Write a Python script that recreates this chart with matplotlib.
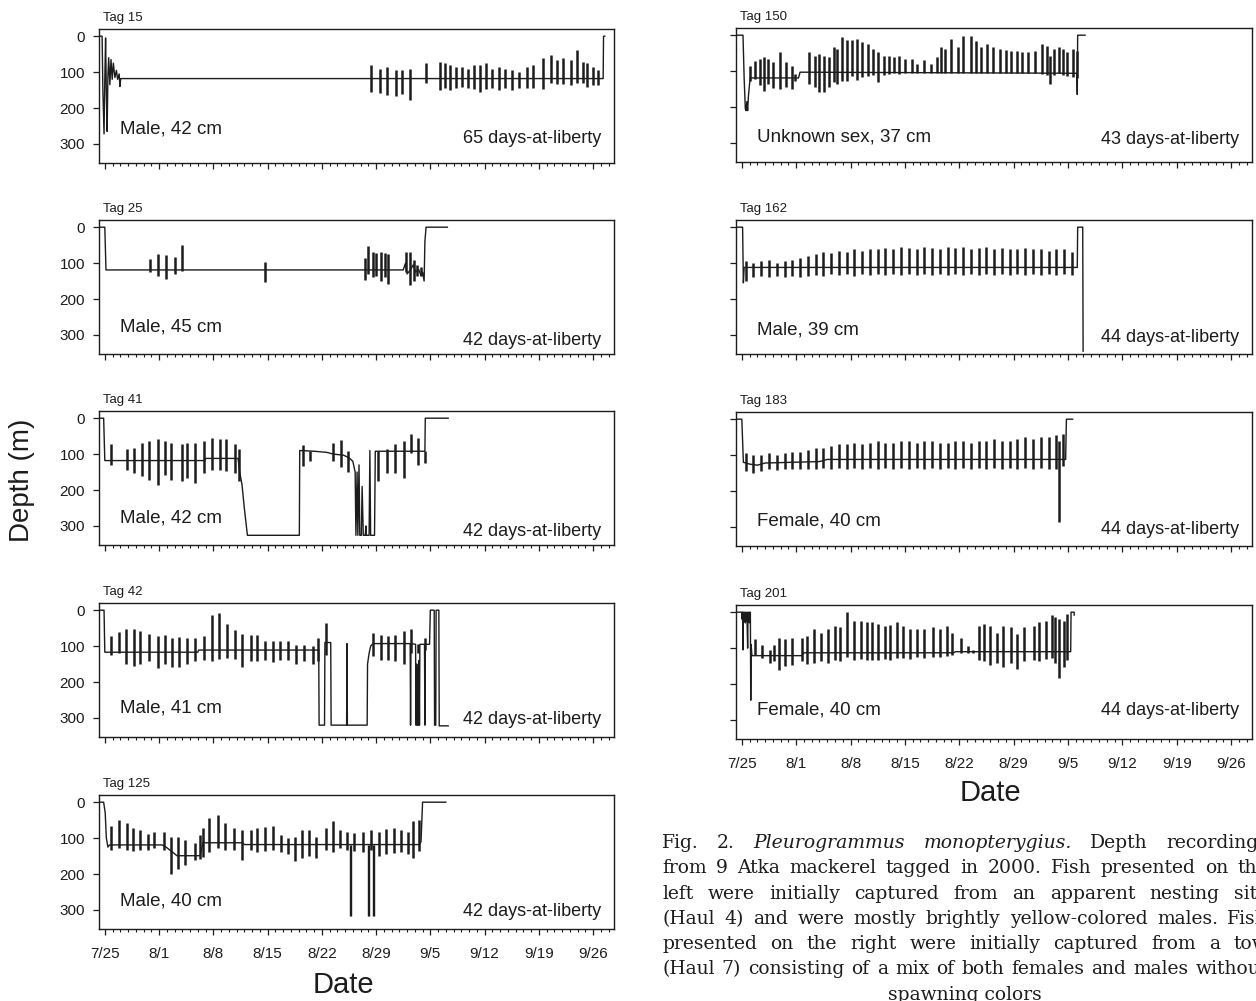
import matplotlib
matplotlib.use('Agg')
import matplotlib.pyplot as plt

# ---- axis definitions (day 0 = 7/25) ----
tick_days = [0, 7, 14, 21, 28, 35, 42, 49, 56, 63]
tick_labels = ['7/25', '8/1', '8/8', '8/15', '8/22', '8/29', '9/5', '9/12', '9/19', '9/26']
depth_ticks = [0, 100, 200, 300]

# ---- Tag 15 ----
tag15_trace = [(-0.9, 0), (-0.35, 0), (-0.25, 150), (-0.1, 272), (0.0, 120), (0.1, 5), (0.2, 160),
               (0.3, 265), (0.4, 110), (0.5, 60), (0.65, 135), (0.8, 65), (0.95, 120), (1.1, 75),
               (1.3, 115), (1.5, 95), (1.65, 120), (1.85, 105), (1.95, 140), (2.05, 118),
               (64.3, 118), (64.35, 0), (64.5, 0)]
tag15_spikes = [(34.3, 80, 155), (35.5, 90, 159), (36.4, 85, 164), (37.6, 94, 167), (38.4, 94, 161),
                (39.4, 90, 178), (41.5, 76, 130), (43.3, 71, 150), (43.9, 74, 145), (44.5, 81, 150),
                (45.3, 85, 145), (46.1, 85, 141), (46.9, 90, 143), (47.6, 81, 148), (48.4, 81, 155),
                (49.2, 76, 148), (49.9, 90, 145), (50.9, 85, 150), (51.7, 90, 145), (52.5, 94, 150),
                (53.5, 99, 143), (54.5, 85, 145), (55.3, 81, 143), (56.6, 62, 148), (57.6, 52, 131),
                (58.4, 67, 133), (59.1, 62, 133), (60.2, 65, 136), (60.9, 39, 131), (61.7, 71, 131),
                (62.2, 76, 141), (63.0, 85, 136), (63.6, 94, 136)]
tag15_dives = []

# ---- Tag 25 ----
tag25_trace = [(-0.7, 0), (0.0, 0), (0.15, 119), (38.5, 119), (38.8, 100), (39.0, 130), (39.4, 120),
               (39.8, 105), (40.1, 125), (40.5, 118), (40.8, 135), (41.0, 125), (41.2, 150),
               (41.3, 40), (41.45, 0), (44.2, 0)]
tag25_spikes = [(5.8, 88, 125), (6.9, 75, 137), (7.9, 78, 144), (9.0, 82, 130), (10.0, 50, 122),
                (20.7, 97, 152), (33.6, 85, 148), (34.0, 52, 130), (34.6, 68, 140), (35.0, 72, 135),
                (35.7, 70, 150), (36.2, 72, 140), (36.6, 75, 158), (38.8, 68, 125), (39.4, 70, 160),
                (39.9, 90, 150), (40.3, 105, 135), (40.8, 110, 135)]
tag25_dives = []

# ---- Tag 41 ----
tag41_trace = [(-0.6, 0), (-0.15, 0), (0.0, 118), (12.9, 118), (13.0, 112), (17.2, 112), (17.4, 150),
               (17.7, 185), (18.0, 250), (18.4, 326), (25.1, 326), (25.15, 90), (27.0, 92),
               (28.6, 95), (29.5, 100), (30.8, 103), (31.5, 110), (32.0, 120), (32.3, 150),
               (32.4, 326), (32.55, 150), (32.65, 326), (32.8, 130), (32.9, 326), (33.1, 326),
               (33.2, 190), (33.35, 326), (33.6, 326), (33.7, 300), (33.75, 326), (34.1, 326),
               (34.2, 90), (34.3, 326), (34.8, 326), (34.9, 92), (41.3, 92), (41.35, 0), (44.3, 0)]
tag41_spikes = [(0.8, 73, 129), (2.9, 85, 143), (3.8, 82, 152), (4.8, 68, 162), (5.7, 64, 171),
                (6.8, 59, 185), (7.8, 64, 157), (8.6, 68, 171), (9.9, 73, 176), (10.6, 68, 167),
                (11.6, 68, 181), (12.8, 64, 153), (13.8, 54, 143), (14.8, 59, 143), (15.7, 59, 148),
                (16.8, 73, 153), (17.3, 87, 175), (25.6, 76, 134), (26.5, 92, 120), (29.5, 70, 118),
                (30.5, 60, 135), (31.4, 90, 150), (35.3, 90, 176), (36.4, 85, 153), (37.5, 73, 153),
                (38.6, 64, 167), (39.5, 45, 96), (40.4, 54, 130), (41.3, 92, 125)]
tag41_dives = []

# ---- Tag 42 ----
tag42_trace = [(-0.6, 0), (-0.1, 0), (0.0, 117), (12.0, 117), (12.1, 111), (27.6, 111), (27.65, 320),
               (28.35, 320), (28.4, 90), (29.15, 90), (29.2, 320), (31.2, 320), (31.25, 93),
               (31.3, 320), (33.85, 320), (33.9, 150), (34.1, 120), (34.3, 100), (34.6, 93),
               (39.4, 93), (39.45, 320), (39.5, 93), (40.1, 95), (40.15, 320), (40.25, 150),
               (40.3, 320), (40.4, 160), (40.45, 320), (40.55, 140), (40.6, 320), (40.65, 95),
               (41.25, 95), (41.3, 320), (41.35, 95), (41.9, 95), (42.0, 0), (42.5, 0),
               (42.55, 320), (42.7, 320), (42.75, 0), (43.1, 0), (43.15, 322), (44.3, 322)]
tag42_spikes = [(0.8, 72, 125), (1.85, 61, 118), (2.7, 52, 149), (3.8, 51, 155), (4.6, 58, 149),
                (5.7, 67, 142), (6.8, 72, 161), (7.8, 70, 149), (8.7, 77, 157), (9.6, 75, 158),
                (10.6, 77, 149), (11.7, 77, 142), (12.8, 72, 138), (13.8, 14, 142), (14.7, 8, 136),
                (15.8, 38, 133), (16.8, 54, 136), (17.7, 65, 157), (18.8, 70, 142), (19.7, 68, 142),
                (20.7, 86, 138), (21.7, 86, 145), (22.6, 86, 138), (23.6, 86, 140), (24.7, 96, 149),
                (25.7, 96, 142), (26.8, 100, 149), (27.5, 77, 142), (28.6, 35, 124), (34.6, 63, 128),
                (35.6, 70, 138), (36.5, 72, 138), (37.5, 70, 142), (38.6, 58, 149), (39.5, 53, 120),
                (40.4, 95, 120), (41.3, 77, 110)]
tag42_dives = []

# ---- Tag 125 ----
tag125_trace = [(-0.7, 0), (-0.15, 0), (0.05, 30), (0.2, 100), (0.4, 125), (0.6, 119), (7.4, 119),
                (7.9, 125), (8.8, 140), (9.3, 149), (12.3, 149), (12.7, 110), (12.9, 113),
                (17.8, 113), (18.0, 118), (40.6, 118), (40.8, 110), (41.0, 0), (44.0, 0)]
tag125_spikes = [(0.8, 65, 133), (1.85, 49, 128), (2.8, 58, 133), (3.7, 72, 136), (4.5, 77, 133),
                 (5.6, 89, 133), (6.4, 82, 128), (7.6, 82, 133), (8.6, 96, 199), (9.5, 96, 185),
                 (10.4, 105, 175), (11.6, 114, 161), (12.3, 91, 157), (12.7, 72, 152), (13.4, 44, 138),
                 (14.6, 35, 128), (15.5, 58, 133), (16.7, 72, 133), (17.7, 77, 161), (18.8, 77, 133),
                 (19.7, 72, 138), (20.7, 68, 136), (21.7, 65, 133), (22.7, 91, 138), (23.6, 100, 145),
                 (24.5, 96, 164), (25.5, 77, 155), (26.4, 77, 149), (27.3, 96, 155), (28.5, 72, 133),
                 (29.4, 53, 138), (30.3, 77, 128), (31.3, 82, 133), (32.2, 86, 136), (33.3, 82, 138),
                 (34.3, 77, 133), (35.4, 82, 149), (36.3, 74, 145), (37.3, 72, 142), (38.2, 77, 138),
                 (39.1, 82, 145), (39.8, 53, 155), (40.5, 49, 136)]
tag125_dives = [(31.65, 118, 316), (31.75, 118, 316), (34.0, 118, 316), (34.12, 118, 316),
                (34.55, 118, 316), (34.67, 118, 316)]

# ---- Tag 150 ----
tag150_trace = [(-0.8, 0), (0.15, 0), (0.3, 120), (0.45, 205), (0.55, 210), (0.65, 185), (0.75, 210),
                (0.85, 170), (1.0, 135), (1.1, 119), (7.3, 119), (7.5, 103), (43.15, 106),
                (43.2, 165), (43.25, 0), (44.2, 0)]
tag150_spikes = [(1.1, 85, 127), (1.7, 71, 122), (2.3, 66, 140), (2.9, 62, 154), (3.4, 66, 135),
                 (4.0, 76, 146), (4.9, 48, 150), (5.7, 76, 145), (6.4, 85, 150), (6.8, 108, 127),
                 (8.7, 48, 136), (9.4, 57, 145), (10.0, 52, 159), (10.6, 57, 159), (11.2, 62, 145),
                 (11.9, 34, 131), (12.3, 39, 136), (12.9, 6, 127), (13.5, 14, 127), (14.2, 14, 115),
                 (14.8, 11, 124), (15.5, 20, 117), (16.2, 25, 115), (16.9, 39, 110), (17.6, 48, 131),
                 (18.3, 57, 110), (18.9, 57, 108), (19.6, 62, 106), (20.3, 57, 108), (21.0, 66, 106),
                 (21.9, 66, 106), (22.6, 80, 106), (23.5, 69, 106), (24.4, 80, 106), (25.1, 62, 106),
                 (25.7, 34, 106), (26.2, 39, 106), (26.9, 11, 106), (27.9, 34, 106), (28.5, 2, 106),
                 (29.5, 2, 106), (30.1, 16, 106), (30.8, 34, 106), (31.6, 25, 106), (32.4, 34, 106),
                 (33.3, 39, 106), (34.0, 42, 106), (34.7, 43, 106), (35.4, 43, 106), (36.1, 48, 106),
                 (36.8, 48, 106), (37.7, 43, 106), (38.6, 25, 108), (39.3, 30, 110), (39.7, 57, 136),
                 (40.2, 39, 110), (40.8, 34, 106), (41.3, 39, 110), (41.9, 48, 113), (42.6, 39, 117),
                 (43.1, 43, 119)]
tag150_dives = []

# ---- Tag 162 ----
tag162_trace = [(-0.8, 0), (0.1, 0), (0.2, 155), (0.3, 112), (43.2, 112), (43.25, 0), (43.9, 0),
                (43.95, 345)]
tag162_spikes = [(0.6, 95, 150), (1.5, 100, 140), (2.5, 95, 135), (3.5, 90, 140), (4.5, 100, 135),
                 (5.5, 95, 140), (6.5, 90, 135), (7.5, 85, 138), (8.5, 80, 135), (9.5, 75, 132),
                 (10.5, 70, 135), (11.5, 72, 130), (12.5, 65, 133), (13.5, 68, 130), (14.5, 60, 135),
                 (15.5, 65, 130), (16.5, 62, 132), (17.5, 60, 130), (18.5, 58, 132), (19.5, 62, 130),
                 (20.5, 55, 133), (21.5, 58, 130), (22.5, 60, 132), (23.5, 55, 130), (24.5, 58, 133),
                 (25.5, 60, 130), (26.5, 55, 132), (27.5, 58, 130), (28.5, 55, 133), (29.5, 60, 130),
                 (30.5, 58, 132), (31.5, 55, 130), (32.5, 60, 133), (33.5, 58, 130), (34.5, 62, 132),
                 (35.5, 60, 130), (36.5, 58, 133), (37.5, 62, 130), (38.5, 60, 132), (39.5, 65, 130),
                 (40.5, 62, 133), (41.5, 60, 130), (42.5, 68, 133)]
tag162_dives = []

# ---- Tag 183 ----
tag183_trace = [(-0.8, 0), (0.0, 0), (0.2, 120), (1.0, 125), (2.0, 128), (3.0, 122), (10.0, 118),
                (11.0, 112), (41.7, 112), (41.8, 0), (42.6, 0)]
tag183_spikes = [(0.6, 95, 145), (1.5, 100, 150), (2.5, 100, 145), (3.5, 95, 140), (4.5, 100, 142),
                 (5.5, 95, 140), (6.5, 90, 140), (7.5, 90, 138), (8.5, 85, 140), (9.5, 80, 138),
                 (10.5, 80, 135), (11.5, 75, 138), (12.5, 70, 135), (13.5, 70, 138), (14.5, 65, 135),
                 (15.5, 70, 138), (16.5, 65, 135), (17.5, 60, 138), (18.5, 65, 135), (19.5, 65, 138),
                 (20.5, 60, 135), (21.5, 60, 138), (22.5, 65, 135), (23.5, 60, 138), (24.5, 60, 135),
                 (25.5, 65, 138), (26.5, 65, 135), (27.5, 60, 138), (28.5, 60, 135), (29.5, 65, 138),
                 (30.5, 60, 135), (31.5, 60, 138), (32.5, 55, 135), (33.5, 60, 138), (34.5, 60, 135),
                 (35.5, 55, 138), (36.5, 50, 135), (37.5, 55, 138), (38.5, 50, 135), (39.5, 50, 138),
                 (40.5, 45, 140), (40.9, 60, 285), (41.4, 40, 130)]
tag183_dives = []

# ---- Tag 201 ----
tag201_trace = [(-1.0, 0), (0.0, 0), (0.05, 20), (0.1, 0), (0.15, 105), (0.2, 0), (0.3, 25), (0.35, 0),
                (0.45, 30), (0.5, 0), (0.6, 25), (0.65, 0), (0.75, 100), (0.8, 0), (0.9, 28),
                (0.95, 0), (1.05, 30), (1.1, 0), (1.15, 245), (1.2, 90), (1.3, 121), (7.7, 121),
                (8.0, 113), (27.3, 113), (27.5, 110), (42.35, 110), (42.4, 0), (42.8, 0), (42.8, 8)]
tag201_spikes = [(1.7, 75, 118), (2.6, 90, 127), (3.6, 104, 142), (4.2, 90, 137), (4.8, 71, 160),
                 (5.6, 75, 151), (6.5, 71, 146), (7.7, 71, 137), (8.4, 66, 143), (9.3, 47, 142),
                 (10.2, 57, 137), (11.1, 47, 142), (12.0, 38, 132), (12.7, 42, 137), (13.6, 0, 125),
                 (14.5, 24, 132), (15.4, 24, 130), (16.1, 28, 132), (16.8, 28, 132), (17.5, 33, 132),
                 (18.4, 38, 130), (19.1, 36, 132), (20.0, 28, 127), (20.7, 38, 127), (21.6, 47, 130),
                 (22.5, 47, 125), (23.4, 47, 127), (24.6, 42, 125), (25.5, 47, 125), (26.4, 38, 121),
                 (27.1, 57, 118), (28.2, 71, 115), (29.1, 94, 113), (29.8, 104, 113), (30.5, 38, 132),
                 (31.2, 33, 137), (31.9, 38, 146), (32.8, 57, 142), (33.6, 38, 153), (34.6, 42, 142),
                 (35.5, 61, 158), (36.4, 42, 137), (37.6, 38, 132), (38.3, 28, 137), (39.2, 24, 130),
                 (39.9, 9, 127), (40.3, 14, 142), (40.9, 19, 184), (41.5, 24, 153), (41.9, 5, 132)]
tag201_dives = []

left_tags = ['Tag 15', 'Tag 25', 'Tag 41', 'Tag 42', 'Tag 125']
left_fish = ['Male, 42 cm', 'Male, 45 cm', 'Male, 42 cm', 'Male, 41 cm', 'Male, 40 cm']
left_days = ['65 days-at-liberty', '42 days-at-liberty', '42 days-at-liberty',
             '42 days-at-liberty', '42 days-at-liberty']
right_tags = ['Tag 150', 'Tag 162', 'Tag 183', 'Tag 201']
right_fish = ['Unknown sex, 37 cm', 'Male, 39 cm', 'Female, 40 cm', 'Female, 40 cm']
right_days = ['43 days-at-liberty', '44 days-at-liberty', '44 days-at-liberty', '44 days-at-liberty']

left_data = [(tag15_trace, tag15_spikes, tag15_dives), (tag25_trace, tag25_spikes, tag25_dives),
             (tag41_trace, tag41_spikes, tag41_dives), (tag42_trace, tag42_spikes, tag42_dives),
             (tag125_trace, tag125_spikes, tag125_dives)]
right_data = [(tag150_trace, tag150_spikes, tag150_dives), (tag162_trace, tag162_spikes, tag162_dives),
              (tag183_trace, tag183_spikes, tag183_dives), (tag201_trace, tag201_spikes, tag201_dives)]

ink = '#1c1c1c'
sans = ['Liberation Sans', 'DejaVu Sans']
W, H = 1256, 1001

fig = plt.figure(figsize=(W / 100, H / 100), dpi=100)


def add_box(x0, x1, top, bottom):
    return fig.add_axes([x0 / W, 1 - bottom / H, (x1 - x0) / W, (bottom - top) / H])


def draw_panel(ax, trace, spikes, dives, tag, fish, days, fish_y, days_y, show_y, show_x):
    d, z = zip(*trace)
    ax.plot(d, z, color=ink, lw=1.0)
    if spikes:
        sd, st, sb = zip(*spikes)
        ax.vlines(sd, st, sb, color=ink, lw=1.8)
    for day, top, bot in dives:
        ax.vlines(day, top, bot, color=ink, lw=1.0)
    ax.set_xlim(-0.75, 65.7)
    ax.set_ylim(353, -20)
    ax.set_xticks(tick_days)
    ax.set_xticks(range(0, 66), minor=True)
    ax.set_yticks(depth_ticks)
    ax.set_xticklabels(tick_labels if show_x else [])
    ax.set_yticklabels([str(v) for v in depth_ticks] if show_y else [])
    ax.tick_params(which='major', direction='out', length=4, width=0.9, labelsize=11, pad=6,
                   colors=ink)
    ax.tick_params(which='minor', direction='out', length=2.2, width=0.8, colors=ink)
    ax.tick_params(axis='x', pad=9)
    for lab in ax.get_xticklabels() + ax.get_yticklabels():
        lab.set_family(sans)
    for sp in ax.spines.values():
        sp.set_linewidth(1.0)
        sp.set_color(ink)
    ax.text(0.008, 1.08, tag, transform=ax.transAxes, fontsize=9.5, family=sans, va='center',
            ha='left', color=ink)
    ax.text(0.04, fish_y, fish, transform=ax.transAxes, fontsize=13.5, family=sans,
            va='center', ha='left', color=ink)
    ax.text(0.975, days_y, days, transform=ax.transAxes, fontsize=13, family=sans,
            va='center', ha='right', color=ink)


left_bottoms = [163, 354, 545, 737, 929]
left_fish_y = [0.25, 0.2, 0.2, 0.22, 0.21]
left_days_y = [0.18, 0.1, 0.1, 0.13, 0.13]
for i in range(5):
    ax = add_box(99, 614, left_bottoms[i] - 134, left_bottoms[i])
    trace, spikes, dives = left_data[i]
    draw_panel(ax, trace, spikes, dives, left_tags[i], left_fish[i], left_days[i],
               left_fish_y[i], left_days_y[i], True, i == 4)

right_bottoms = [162, 354, 546, 739]
right_fish_y = [0.19, 0.18, 0.19, 0.22]
right_days_y = [0.17, 0.12, 0.12, 0.21]
for i in range(4):
    ax = add_box(736, 1252, right_bottoms[i] - 134, right_bottoms[i])
    trace, spikes, dives = right_data[i]
    draw_panel(ax, trace, spikes, dives, right_tags[i], right_fish[i], right_days[i],
               right_fish_y[i], right_days_y[i], False, i == 3)

fig.text(22 / W, 1 - 480 / H, 'Depth (m)', rotation=90, fontsize=20, family=sans,
         ha='center', va='center', color=ink)
fig.text(343 / W, 1 - 985 / H, 'Date', fontsize=21, family=sans, ha='center', va='center',
         color=ink)
fig.text(990 / W, 1 - 793 / H, 'Date', fontsize=21, family=sans, ha='center', va='center',
         color=ink)

# ---- caption (justified, runs past the right edge as in the source scan) ----
caption_lines = [
    [('Fig.', 0), ('2.', 0), ('Pleurogrammus', 1), ('monopterygius.', 1), ('Depth', 0), ('recordings', 0)],
    [(w, 0) for w in 'from 9 Atka mackerel tagged in 2000. Fish presented on the'.split()],
    [(w, 0) for w in 'left were initially captured from an apparent nesting site'.split()],
    [(w, 0) for w in '(Haul 4) and were mostly brightly yellow-colored males. Fish'.split()],
    [(w, 0) for w in 'presented on the right were initially captured from a tow'.split()],
    [(w, 0) for w in '(Haul 7) consisting of a mix of both females and males without'.split()],
]
cap_fs = 13.5
cap_x0, cap_x1 = 662, 1268
renderer = fig.canvas.get_renderer()
for k, line in enumerate(caption_lines):
    y = 1 - (843 + 25.3 * k) / H
    texts = [fig.text(0, y, w, fontsize=cap_fs, family='DejaVu Serif',
                      style='italic' if it else 'normal', va='center', ha='left', color=ink)
             for w, it in line]
    widths = [t.get_window_extent(renderer).width for t in texts]
    gap = max((cap_x1 - cap_x0 - sum(widths)) / (len(texts) - 1), 4)
    x = cap_x0
    for t, w in zip(texts, widths):
        t.set_x(x / W)
        x += w + gap
fig.text(965 / W, 1 - 995 / H, 'spawning colors', fontsize=cap_fs, family='DejaVu Serif',
         ha='center', va='center', color=ink)

fig.savefig('out.png', dpi=100)
